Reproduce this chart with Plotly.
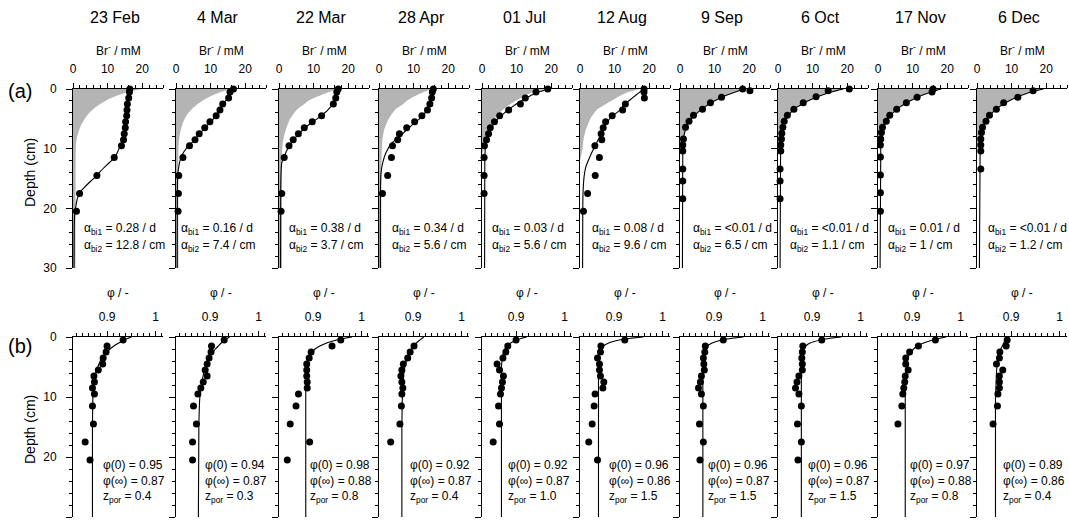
import plotly.graph_objects as go

W, H = 1069, 520
FONT = "Arial, 'Liberation Sans', sans-serif"

dates = ["23 Feb", "4 Mar", "22 Mar", "28 Apr", "01 Jul", "12 Aug", "9 Sep", "6 Oct", "17 Nov", "6 Dec"]

# ---------------- Row (a): bromide profiles (mM) vs depth (cm) ----------------
br_depth = [
    [0, 0.5, 1.5, 2.5, 3.5, 4.5, 5.5, 6.5, 7.5, 8.5, 9.5, 11.5, 14.5, 17.5, 20.5],
    [0, 0.5, 1.5, 2.5, 3.5, 4.5, 5.5, 6.5, 7.5, 8.5, 9.5, 11.5, 14.5, 17.5, 20.5],
    [0, 0.5, 1.5, 2.5, 4.5, 5.5, 6.5, 7.5, 8.5, 9.5, 11.5, 17.5, 20.5],
    [0, 0.5, 1.5, 2.5, 3.5, 4.5, 5.5, 6.5, 7.5, 8.5, 9.5, 11.5, 14.5, 17.5],
    [0, 0.5, 1.5, 2.5, 3.5, 4.5, 5.5, 6.5, 7.5, 8.5, 9.5, 11.5, 14.5, 17.5],
    [0, 0.5, 1.5, 2.5, 3.5, 4.5, 5.5, 6.5, 7.5, 8.5, 9.5, 11.5, 14.5, 17.5, 20.5],
    [0, 0.3, 1.4, 2.3, 3.4, 4.4, 5.4, 6.4, 8.4, 9.4, 10.4, 13.4, 15.4, 18.4],
    [0, 0.3, 1.3, 2.3, 3.4, 4.4, 5.4, 6.4, 7.4, 8.4, 9.4, 10.4, 13.4, 15.4, 18.4],
    [0, 0.5, 1.4, 2.3, 3.4, 4.4, 5.4, 6.4, 7.3, 8.4, 9.4, 11.4, 14.4, 17.4, 20.5],
    [0.3, 1.4, 2.3, 3.4, 4.4, 5.4, 6.4, 7.3, 8.4, 9.4, 10.4, 13.4],
]
br_conc = [
    [16.4, 16.3, 16.1, 15.7, 15.6, 15.5, 15.2, 15.1, 14.8, 14.6, 14.0, 11.9, 6.9, 1.9, 1.0],
    [16.6, 15.6, 15.2, 13.5, 12.7, 11.6, 9.8, 8.3, 6.7, 5.5, 3.9, 2.0, 0.8, 0.7, 0.6],
    [17.1, 16.7, 16.4, 15.7, 12.3, 9.6, 7.3, 5.6, 4.1, 2.9, 1.5, 0.8, 0.6],
    [15.7, 15.4, 15.2, 14.7, 14.0, 12.4, 10.3, 8.0, 5.9, 5.4, 3.9, 3.6, 2.5, 1.0],
    [19.0, 15.6, 12.5, 11.1, 7.7, 5.1, 3.6, 2.4, 1.9, 1.3, 0.7, 0.6, 0.6, 0.6],
    [18.5, 18.5, 18.6, 13.1, 12.3, 9.3, 7.4, 6.7, 6.1, 6.3, 4.3, 5.6, 4.4, 2.2, 1.0],
    [18.1, 20.2, 12.0, 8.8, 6.5, 3.9, 2.6, 1.6, 1.0, 0.8, 0.8, 0.8, 0.8, 0.8],
    [20.6, 14.5, 11.0, 7.3, 4.6, 2.7, 1.8, 1.4, 1.1, 1.0, 0.8, 0.8, 0.6, 0.6, 0.6],
    [15.9, 15.6, 11.3, 8.2, 5.4, 3.4, 2.4, 1.3, 1.0, 0.8, 0.7, 0.7, 0.7, 0.7, 0.7],
    [16.2, 11.8, 7.7, 5.6, 3.6, 2.6, 1.6, 1.3, 1.1, 1.1, 1.1, 1.1],
]

# fitted bio-irrigation model (black line)
grid_a = [0, 0.5, 1, 1.5, 2, 2.5, 3, 3.5, 4, 4.5, 5, 5.5, 6, 7, 8, 9, 10, 30]
model_depth = [
    [0, 2, 4, 6, 8, 9, 10, 11, 11.6, 12.7, 13.8, 14.5, 15.5, 16.6, 17.4, 18.5, 19.7, 21.3, 24, 30],
    [0, 1, 2, 3, 4, 5, 6, 7, 8, 9, 9.6, 10.6, 11.3, 12.4, 13.5, 14.6, 17, 30],
    [0, 1, 2, 2.5, 3, 3.7, 4.4, 5, 6, 7, 8, 9, 10, 11.3, 12.4, 14, 17, 30],
    [0, 1, 2, 3, 4, 5, 6, 7, 8, 9, 10.7, 12.4, 14, 16, 30],
    [0, 0.5, 1, 1.5, 2, 2.5, 3, 3.5, 4, 4.5, 5, 5.5, 6, 7, 8, 9, 10, 12, 30],
    [0, 0.5, 1, 1.8, 2.5, 3.5, 4.9, 6.3, 7.9, 9.6, 11.3, 13, 14.6, 17, 20, 30],
    grid_a, grid_a, grid_a, grid_a,
]
model_conc = [
    [16.4, 15.8, 15.4, 15.1, 14.6, 14.2, 13.3, 12.5, 11.9, 9.8, 7.9, 6.9, 5.0, 3.1, 1.9, 1.2, 0.8, 0.45, 0.35, 0.3],
    [16.6, 15.4, 14.3, 13.2, 12.1, 10.8, 9.2, 7.6, 6.1, 4.6, 3.5, 2.2, 1.6, 1.0, 0.7, 0.5, 0.4, 0.35],
    [17.1, 16.6, 16.0, 15.6, 14.9, 13.8, 12.3, 11.0, 8.6, 6.6, 5.0, 3.6, 2.5, 1.5, 0.8, 0.6, 0.5, 0.45],
    [15.7, 15.3, 14.9, 14.3, 13.3, 11.7, 9.6, 7.7, 6.0, 3.8, 2.0, 1.06, 0.6, 0.45, 0.4],
    [19.3, 16.4, 14.4, 12.8, 11.3, 9.9, 8.7, 7.6, 6.5, 5.5, 4.6, 3.8, 3.2, 2.3, 1.6, 1.2, 0.95, 0.8, 0.75],
    [18.5, 17.3, 16.2, 14.5, 13.0, 11.6, 8.7, 7.2, 5.8, 4.3, 2.9, 1.7, 1.2, 0.9, 0.8, 0.75],
    [18.5, 16.0, 13.6, 11.6, 9.9, 8.4, 7.2, 6.0, 5.0, 4.1, 3.3, 2.6, 2.1, 1.5, 1.1, 0.9, 0.8, 0.7],
    [18.9, 15.5, 12.8, 10.5, 8.6, 7.0, 5.6, 4.5, 3.6, 2.9, 2.3, 1.9, 1.6, 1.2, 1.0, 0.85, 0.75, 0.6],
    [18.3, 15.3, 12.9, 10.9, 9.2, 7.7, 6.4, 5.3, 4.3, 3.5, 2.8, 2.3, 1.9, 1.4, 1.1, 0.9, 0.8, 0.6],
    [19.2, 15.6, 13.1, 11.0, 9.2, 7.7, 6.4, 5.3, 4.4, 3.6, 2.9, 2.4, 2.0, 1.5, 1.2, 1.0, 0.9, 0.7],
]

# grey shaded profile
grid_g = [0, 0.5, 1, 1.5, 2, 2.5, 3, 3.5, 4, 4.5, 5, 5.5, 6, 7, 8, 9, 10]
gray_depth = [
    [0, 0.5, 1, 1.5, 2, 3, 4, 5, 6, 7, 8, 9, 10, 30],
    [0, 0.5, 1, 1.5, 2, 3, 4, 5, 6, 7, 8, 9, 10, 30],
    [0, 0.5, 1, 1.8, 2.5, 3.5, 5, 6.8, 8.5, 10.2, 12, 30],
    [0, 0.5, 1, 1.8, 2.5, 3.5, 5.1, 6.8, 8.5, 10.2, 12, 30],
    [0, 0.5, 1, 2, 3, 4, 5, 6, 7, 8, 9, 10, 11],
    [0, 0.5, 1, 1.8, 2.5, 3.5, 4.5, 5.1, 6.8, 8.5, 10.2, 11, 12],
    grid_g, grid_g, grid_g, grid_g,
]
gray_conc = [
    [19.8, 16.0, 13.2, 11.0, 9.3, 6.6, 4.7, 3.4, 2.4, 1.7, 1.2, 0.9, 0.8, 0.7],
    [16.0, 13.0, 10.8, 9.0, 7.5, 5.2, 3.6, 2.5, 1.8, 1.3, 1.0, 0.8, 0.7, 0.7],
    [17.0, 14.5, 12.2, 9.0, 7.3, 5.1, 3.2, 2.0, 1.25, 0.9, 0.8, 0.8],
    [15.2, 13.0, 11.0, 8.5, 7.0, 4.6, 2.7, 1.5, 1.0, 0.8, 0.7, 0.7],
    [18.0, 14.8, 12.8, 9.6, 7.0, 5.0, 3.6, 2.6, 1.8, 1.2, 0.8, 0.5, 0.0],
    [17.3, 14.0, 12.0, 9.6, 7.5, 4.8, 3.5, 2.9, 1.7, 1.0, 0.7, 0.4, 0.0],
    [18.5, 16.0, 13.6, 11.6, 9.9, 8.4, 7.2, 6.0, 5.0, 4.1, 3.3, 2.6, 2.1, 1.5, 1.1, 0.7, 0.0],
    [18.9, 15.5, 12.8, 10.5, 8.6, 7.0, 5.6, 4.5, 3.6, 2.9, 2.3, 1.9, 1.6, 1.2, 1.0, 0.7, 0.0],
    [18.3, 15.3, 12.9, 10.9, 9.2, 7.7, 6.4, 5.3, 4.3, 3.5, 2.8, 2.3, 1.9, 1.4, 1.1, 0.7, 0.0],
    [19.2, 15.6, 13.1, 11.0, 9.2, 7.7, 6.4, 5.3, 4.4, 3.6, 2.9, 2.4, 2.0, 1.5, 1.2, 0.8, 0.0],
]

alpha_bi1 = ["0.28", "0.16", "0.38", "0.34", "0.03", "0.08", "<0.01", "<0.01", "0.01", "<0.01"]
alpha_bi2 = ["12.8", "7.4", "3.7", "5.6", "5.6", "9.6", "6.5", "1.1", "1", "1.2"]

# ---------------- Row (b): porosity profiles ----------------
d_std = [0.5, 1.5, 2.5, 3.5, 4.5, 5.5, 6.5, 7.5, 8.5, 9.5, 11.5, 14.5, 17.5, 20.5]
phi_depth = [
    d_std, d_std, d_std,
    [1.5, 2.5, 3.5, 4.5, 5.5, 6.5, 7.5, 8.5, 9.5, 11.5, 14.5, 17.5],
    [0.5, 1.5, 2.5, 3.5, 4.5, 5.5, 6.5, 7.5, 8.5, 9.5, 11.5, 14.5, 17.5],
    d_std, d_std, d_std,
    [0.5, 1.5, 2.5, 3.5, 4.5, 5.5, 6.5, 7.5, 8.5, 9.5, 11.5, 14.5],
    [0.5, 1.5, 2.5, 3.5, 4.5, 5.5, 6.5, 7.5, 8.5, 9.5, 11.5, 14.5],
]
phi_val = [
    [0.933, 0.900, 0.898, 0.892, 0.891, 0.882, 0.873, 0.874, 0.870, 0.874, 0.870, 0.872, 0.855, 0.865],
    [0.929, 0.903, 0.902, 0.898, 0.894, 0.890, 0.894, 0.886, 0.881, 0.875, 0.866, 0.872, 0.864, 0.864],
    [0.957, 0.939, 0.896, 0.892, 0.887, 0.887, 0.887, 0.888, 0.888, 0.870, 0.865, 0.853, 0.893, 0.847],
    [0.902, 0.894, 0.889, 0.880, 0.877, 0.875, 0.877, 0.879, 0.877, 0.876, 0.873, 0.854],
    [0.900, 0.883, 0.879, 0.873, 0.861, 0.866, 0.874, 0.872, 0.870, 0.868, 0.864, 0.866, 0.853],
    [0.922, 0.873, 0.872, 0.866, 0.870, 0.870, 0.872, 0.879, 0.877, 0.861, 0.859, 0.855, 0.848, 0.866],
    [0.919, 0.882, 0.881, 0.878, 0.879, 0.880, 0.874, 0.872, 0.868, 0.874, 0.878, 0.870, 0.878, 0.871],
    [0.920, 0.881, 0.880, 0.879, 0.880, 0.880, 0.873, 0.869, 0.866, 0.873, 0.878, 0.870, 0.878, 0.871],
    [0.948, 0.913, 0.895, 0.887, 0.887, 0.892, 0.886, 0.885, 0.883, 0.881, 0.879, 0.871],
    [0.892, 0.890, 0.877, 0.876, 0.870, 0.883, 0.876, 0.876, 0.876, 0.873, 0.872, 0.863],
]
grid_b = [0, 0.25, 0.5, 1, 1.5, 2, 3, 4, 5, 6, 8, 10, 15, 30]
phi_model = [
    [0.950, 0.942, 0.936, 0.924, 0.914, 0.906, 0.894, 0.886, 0.881, 0.877, 0.873, 0.871, 0.870, 0.870],
    [0.940, 0.935, 0.931, 0.923, 0.917, 0.911, 0.902, 0.895, 0.890, 0.887, 0.882, 0.879, 0.877, 0.876],
    [0.980, 0.963, 0.949, 0.928, 0.914, 0.904, 0.894, 0.889, 0.887, 0.886, 0.885, 0.885, 0.885, 0.885],
    [0.922, 0.918, 0.914, 0.907, 0.902, 0.897, 0.891, 0.886, 0.883, 0.881, 0.879, 0.878, 0.877, 0.877],
    [0.922, 0.910, 0.902, 0.889, 0.882, 0.877, 0.873, 0.871, 0.870, 0.870, 0.870, 0.870, 0.870, 0.870],
    [0.960, 0.931, 0.911, 0.889, 0.878, 0.873, 0.869, 0.868, 0.868, 0.868, 0.868, 0.868, 0.868, 0.868],
    [0.960, 0.934, 0.916, 0.896, 0.886, 0.881, 0.878, 0.877, 0.877, 0.877, 0.877, 0.877, 0.877, 0.877],
    [0.960, 0.934, 0.917, 0.896, 0.887, 0.882, 0.879, 0.878, 0.878, 0.878, 0.878, 0.878, 0.878, 0.878],
    [0.970, 0.955, 0.942, 0.924, 0.911, 0.903, 0.894, 0.889, 0.888, 0.887, 0.886, 0.886, 0.886, 0.886],
    [0.893, 0.891, 0.888, 0.885, 0.882, 0.879, 0.876, 0.873, 0.871, 0.870, 0.869, 0.868, 0.868, 0.868],
]
phi_0 = ["0.95", "0.94", "0.98", "0.92", "0.92", "0.96", "0.96", "0.96", "0.97", "0.89"]
phi_inf = ["0.87", "0.87", "0.88", "0.87", "0.87", "0.86", "0.87", "0.87", "0.88", "0.86"]
z_por = ["0.4", "0.3", "0.8", "0.4", "1.0", "1.5", "1.5", "1.5", "0.8", "0.4"]

# ---------------- layout geometry (pixels) ----------------
panel_left = [73, 176, 279, 379, 482, 580, 680, 778, 878, 977]
PW = 90
rows_px = [(89, 268), (337, 517)]
alpha_off = [9, 3, 8, 11, 8, 10, 11, 10, 8, 9]
phi_off = [29, 28, 30, 30, 25, 28, 27, 29, 31, 25]
GRAY = "#b4b4b4"


def px(x):
    return x / W


def py(y):
    return 1 - y / H


fig = go.Figure()
layout = {}
annotations = []
tickfont = dict(family=FONT, size=12, color="black")

for r in range(2):
    top, bot = rows_px[r]
    for i in range(10):
        n = r * 10 + i + 1
        xs = "" if n == 1 else str(n)
        xa, ya = "x" + xs, "y" + xs
        x0 = panel_left[i]
        if r == 0:
            xrange_, xd0, xdt, mdt = [0, 26], 0, 10, 2
        else:
            xrange_, xd0, xdt, mdt = [0.83, 1.015], 0.9, 0.1, 0.0125
        layout["xaxis" + xs] = dict(
            domain=[px(x0), px(x0 + PW)], range=xrange_, side="top", anchor=ya, automargin=False,
            showline=True, linecolor="black", linewidth=1, showgrid=False, zeroline=False,
            ticks="outside", ticklen=5, tickwidth=1, tickcolor="black", ticklabelstandoff=5,
            tickmode="linear", tick0=xd0, dtick=xdt, tickfont=tickfont,
            minor=dict(ticks="outside", tick0=xd0, dtick=mdt, ticklen=3, tickwidth=1, tickcolor="black", showgrid=False),
            fixedrange=True,
        )
        layout["yaxis" + xs] = dict(
            domain=[py(bot), py(top)], range=[30, 0], anchor=xa, automargin=False,
            showline=True, linecolor="black", linewidth=1, showgrid=False, zeroline=False,
            ticks="outside", ticklen=6, tickwidth=1, tickcolor="black", ticklabelstandoff=7,
            tickmode="linear", tick0=0, dtick=10, tickfont=tickfont,
            showticklabels=(i == 0),
            minor=dict(ticks="outside", tick0=0, dtick=2, ticklen=3.5, tickwidth=1, tickcolor="black", showgrid=False),
            fixedrange=True,
        )

        if r == 0:
            fig.add_trace(go.Scatter(
                x=gray_conc[i], y=gray_depth[i], mode="lines", fill="tozerox", fillcolor=GRAY,
                line=dict(width=0, color=GRAY, shape="spline", smoothing=0.6),
                xaxis=xa, yaxis=ya, showlegend=False, hoverinfo="skip"))
            fig.add_trace(go.Scatter(
                x=model_conc[i], y=model_depth[i], mode="lines",
                line=dict(width=1.1, color="black", shape="spline", smoothing=0.6),
                xaxis=xa, yaxis=ya, showlegend=False, hoverinfo="skip"))
            fig.add_trace(go.Scatter(
                x=br_conc[i], y=br_depth[i], mode="markers",
                marker=dict(size=7, color="black"), cliponaxis=False,
                xaxis=xa, yaxis=ya, showlegend=False))
            annotations.append(dict(text=dates[i], x=px(x0 + 42), y=py(18), xref="paper", yref="paper",
                                    showarrow=False, xanchor="center", yanchor="middle",
                                    font=dict(family=FONT, size=16, color="black")))
            annotations.append(dict(text="Br<sup>-</sup> / mM", x=px(x0 + 45), y=py(50), xref="paper", yref="paper",
                                    showarrow=False, xanchor="center", yanchor="middle",
                                    font=dict(family=FONT, size=12, color="black")))
            annotations.append(dict(text="α<sub>bi1</sub> = " + alpha_bi1[i] + " / d",
                                    x=px(x0 + alpha_off[i]), y=py(229), xref="paper", yref="paper",
                                    showarrow=False, xanchor="left", yanchor="middle",
                                    font=dict(family=FONT, size=12, color="black")))
            annotations.append(dict(text="α<sub>bi2</sub> = " + alpha_bi2[i] + " / cm",
                                    x=px(x0 + alpha_off[i]), y=py(246), xref="paper", yref="paper",
                                    showarrow=False, xanchor="left", yanchor="middle",
                                    font=dict(family=FONT, size=12, color="black")))
        else:
            fig.add_trace(go.Scatter(
                x=phi_model[i], y=grid_b, mode="lines",
                line=dict(width=1.1, color="black", shape="spline", smoothing=0.6),
                xaxis=xa, yaxis=ya, showlegend=False, hoverinfo="skip"))
            fig.add_trace(go.Scatter(
                x=phi_val[i], y=phi_depth[i], mode="markers",
                marker=dict(size=7, color="black"), cliponaxis=False,
                xaxis=xa, yaxis=ya, showlegend=False))
            annotations.append(dict(text="φ / -", x=px(x0 + 45), y=py(293), xref="paper", yref="paper",
                                    showarrow=False, xanchor="center", yanchor="middle",
                                    font=dict(family=FONT, size=12, color="black")))
            txt = ("φ(0) = " + phi_0[i] + "<br>φ(∞) = " + phi_inf[i]
                   + "<br>z<sub>por</sub> = " + z_por[i])
            annotations.append(dict(text=txt, x=px(x0 + phi_off[i]), y=py(481),
                                    xref="paper", yref="paper", showarrow=False, align="left",
                                    xanchor="left", yanchor="middle", borderpad=0,
                                    font=dict(family=FONT, size=12, color="black")))

for lab, yy in [("(a)", 91), ("(b)", 346)]:
    annotations.append(dict(text=lab, x=px(20), y=py(yy), xref="paper", yref="paper", showarrow=False,
                            xanchor="center", yanchor="middle", font=dict(family=FONT, size=20, color="black")))
for yy in [173, 430]:
    annotations.append(dict(text="Depth (cm)", x=px(30), y=py(yy), xref="paper", yref="paper", showarrow=False,
                            textangle=-90, xanchor="center", yanchor="middle",
                            font=dict(family=FONT, size=14, color="black")))

fig.update_layout(
    width=W, height=H, margin=dict(l=0, r=0, t=0, b=0, autoexpand=False),
    paper_bgcolor="white", plot_bgcolor="white",
    annotations=annotations, showlegend=False, **layout,
)

fig.write_html("out.html")
